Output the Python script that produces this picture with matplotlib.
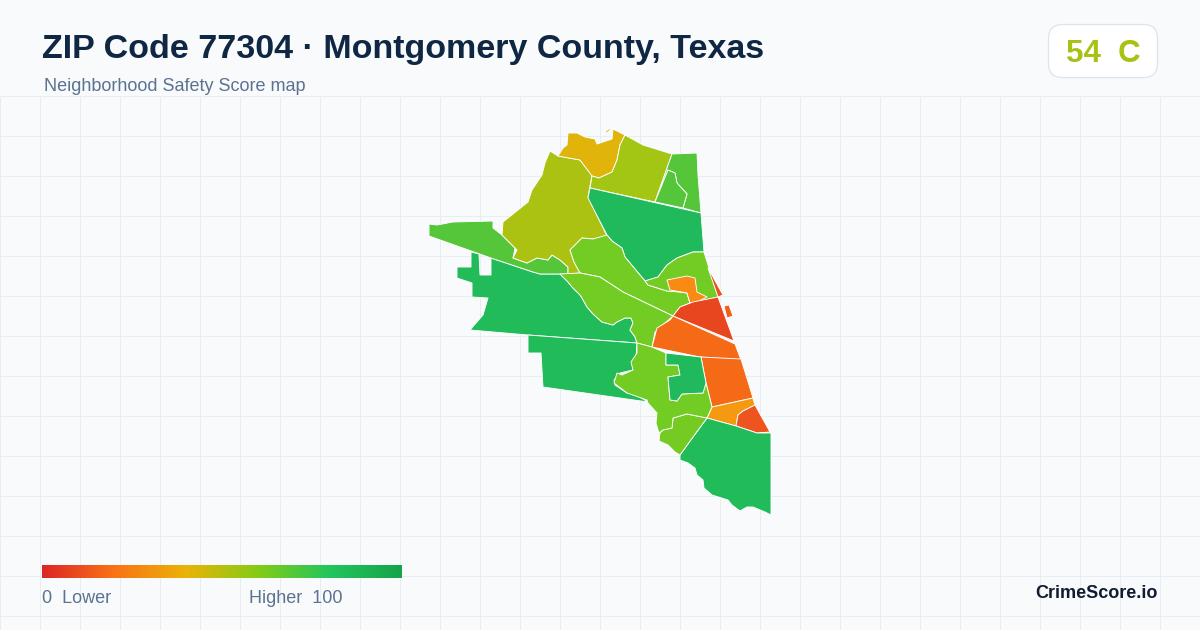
import numpy as np
import matplotlib
matplotlib.use("Agg")
import matplotlib.pyplot as plt
from matplotlib.patches import Polygon, FancyBboxPatch
from matplotlib.colors import LinearSegmentedColormap

TITLE = "ZIP Code 77304 · Montgomery County, Texas"
SUBTITLE = "Neighborhood Safety Score map"
SCORE_TEXT = "54  C"
BRAND = "CrimeScore.io"
LEGEND_LOW = "0  Lower"
LEGEND_HIGH = "Higher  100"

NAVY = "#0f2742"
SLATE = "#5b7290"
BG = "#f8fafc"
GRID = "#e5eef3"

RAMP_STOPS = [0, .2, .4, .6, .8, 1]
RAMP_COLORS = ["#dc2626", "#f97316", "#eab308", "#84cc16", "#22c55e", "#16a34a"]

big_west = [(470,330),(483,315),(488,298),(472,297),(472,283),(457,278),(457,267),(471,267),(471,252),(479,254),(480,275),(491,275),(491,258),(533,272),(540,274),(560,274),(568,282),(572,287),(580,295),(582,298),(587,307),(593,314),(602,322),(613,325),(617,322),(625,318),(631,318),(633,323),(630,330),(635,337),(637,343),(528,335)]
lower_west = [(528,335),(637,343),(636,357),(632,363),(633,370),(620,373),(614,380),(615,385),(627,393),(633,393),(648,402),(543,387),(541,353),(528,353)]
west_spur = [(429,224),(437,225),(453,222),(493,221),(493,228),(502,235),(515,248),(513,258),(527,263),(537,258),(548,260),(552,255),(560,260),(568,267),(568,274),(540,274),(533,272),(491,258),(429,236)]
nw_olive = [(550,151),(558,156),(580,160),(592,175),(588,197),(607,236),(593,239),(582,238),(570,250),(574,262),(580,273),(568,274),(568,267),(560,260),(552,255),(548,260),(537,258),(527,263),(513,258),(517,250),(502,235),(503,222),(528,202),(532,190),(542,175),(545,163)]
top_gold = [(568,133),(577,133),(585,137),(595,139),(597,144),(612,139),(613,129),(625,135),(620,145),(617,160),(612,172),(599,178),(592,176),(580,160),(558,156),(563,148),(567,145)]
gold_islet = [(605,132),(610,128),(611,129),(607,133)]
top_olive = [(625,135),(643,145),(672,154),(655,202),(590,188),(592,176),(599,178),(612,172),(617,160),(620,145)]
ne_green = [(672,154),(697,153),(698,175),(701,213),(683,208),(687,194),(677,183),(675,173),(668,170),(655,202)]
ne_inset = [(668,170),(675,173),(677,183),(687,194),(683,208),(655,202)]
north_green = [(590,188),(701,213),(704,252),(693,252),(677,258),(667,265),(658,277),(645,281),(625,257),(622,248),(612,241),(607,235),(588,198)]
lime_upper = [(582,238),(593,239),(607,235),(612,241),(622,248),(625,257),(645,281),(648,285),(667,291),(680,292),(687,293),(690,303),(680,307),(673,316),(623,292),(600,277),(580,273),(574,262),(570,250)]
lime_east = [(645,281),(658,277),(667,265),(677,258),(693,252),(704,252),(718,297),(697,302),(690,303),(687,293),(680,292),(667,291),(648,285)]
lime_band = [(560,274),(580,273),(600,277),(623,292),(673,316),(655,332),(652,347),(637,343),(635,337),(630,330),(633,323),(631,318),(625,318),(617,322),(613,325),(602,322),(593,314),(587,307),(582,298),(580,295),(572,287),(568,282)]
orange_inset = [(667,280),(687,276),(695,278),(697,292),(707,297),(697,302),(690,303),(687,293),(670,290)]
red_core = [(673,316),(680,307),(693,302),(718,297),(734,341)]
coast_strip = [(708,268),(723,295),(718,297)]
coast_islet = [(724,306),(729,305),(733,316),(727,318)]
orange_mid = [(673,316),(735,344),(741,360),(700,357),(652,347),(657,328),(670,320)]
orange_south = [(701,357),(741,359),(753,398),(712,407),(706,383)]
amber_south = [(712,407),(753,398),(755,405),(743,411),(738,415),(736,426),(707,418)]
red_south = [(755,405),(770,432),(757,433),(736,426),(738,415),(743,411)]
south_green = [(707,418),(736,426),(757,433),(771,433),(771,515),(765,512),(753,507),(747,507),(740,511),(732,505),(728,500),(712,495),(704,488),(703,480),(697,475),(695,468),(688,463),(680,460),(680,455),(693,437)]
lime_south = [(680,455),(693,437),(707,418),(687,414),(673,418),(672,428),(663,430),(660,433),(659,441),(668,445),(675,452)]
lime_central = [(637,343),(652,347),(666,353),(666,365),(678,365),(680,375),(668,377),(670,400),(677,401),(682,394),(703,393),(706,383),(712,407),(707,418),(687,414),(673,418),(672,428),(663,430),(659,433),(656,423),(657,413),(648,403),(647,400),(627,393),(614,383),(617,373),(622,375),(633,370),(631,362),(637,353)]
green_inset = [(666,353),(701,357),(706,383),(703,393),(682,394),(677,401),(670,400),(668,377),(680,375),(678,365),(666,365)]

REGIONS = [
    (big_west, "#22bb5a"), (lower_west, "#22bb5a"), (west_spur, "#55c53a"),
    (nw_olive, "#acc212"), (top_gold, "#e0b40a"), (gold_islet, "#e0b40a"),
    (top_olive, "#a3c614"), (ne_green, "#55c53a"), (ne_inset, "#55c53a"),
    (north_green, "#20ba5c"), (lime_upper, "#72cc24"), (lime_east, "#72cc24"),
    (lime_band, "#72cc24"), (orange_inset, "#f98a12"), (red_core, "#e8461e"),
    (coast_strip, "#e8561e"), (coast_islet, "#f0601c"), (orange_mid, "#f56a16"),
    (orange_south, "#f56a16"), (amber_south, "#f59a10"), (red_south, "#ee5420"),
    (south_green, "#22bb5a"), (lime_south, "#76cb22"), (lime_central, "#72cc24"),
    (green_inset, "#20ba5c"),
]

GRID_X = np.arange(0, 1201, 40)
GRID_Y = np.arange(96, 631, 40)

plt.rcParams['font.family'] = ['Liberation Sans', 'DejaVu Sans']
fig = plt.figure(figsize=(12, 6.3), dpi=100, facecolor=BG)
ax = fig.add_axes([0, 0, 1, 1])
ax.set_xlim(0, 1200)
ax.set_ylim(630, 0)
ax.axis("off")

ax.vlines(GRID_X, 97, 630, color=GRID, lw=0.72, zorder=1)
ax.hlines(GRID_Y, 0, 1200, color=GRID, lw=0.72, zorder=1)

for pts, col in REGIONS:
    ax.add_patch(Polygon(pts, closed=True, facecolor=col, edgecolor="#ffffff", lw=0.65, zorder=3, joinstyle="round"))

cmap = LinearSegmentedColormap.from_list("score", list(zip(RAMP_STOPS, RAMP_COLORS)))
ax.imshow(np.linspace(0, 1, 512)[None, :], extent=(42, 402, 578, 565), aspect="auto", cmap=cmap, zorder=4)
ax.set_xlim(0, 1200)
ax.set_ylim(630, 0)

ax.add_patch(FancyBboxPatch((1048.5+14, 24.5+14), 109-28, 53-28,
                            boxstyle="round,pad=14,rounding_size=14",
                            fc="#ffffff", ec="#dde4ee", lw=0.9, zorder=4))

ax.text(42, 58, TITLE, fontsize=24.5, fontweight="bold", color=NAVY, va="baseline", ha="left", zorder=5)
ax.text(44, 91, SUBTITLE, fontsize=12.95, color=SLATE, va="baseline", ha="left", zorder=5)
ax.text(1103, 62, SCORE_TEXT, fontsize=22.5, fontweight="bold", color="#a9c114", va="baseline", ha="center", zorder=5)
ax.text(42, 603, LEGEND_LOW, fontsize=12.95, color=SLATE, va="baseline", ha="left", zorder=5)
ax.text(249, 603, LEGEND_HIGH, fontsize=12.95, color=SLATE, va="baseline", ha="left", zorder=5)
ax.text(1158, 598, BRAND, fontsize=13, fontweight="bold", color="#111c30", va="baseline", ha="right", zorder=5)

fig.savefig("out.png", dpi=100, facecolor=BG)
